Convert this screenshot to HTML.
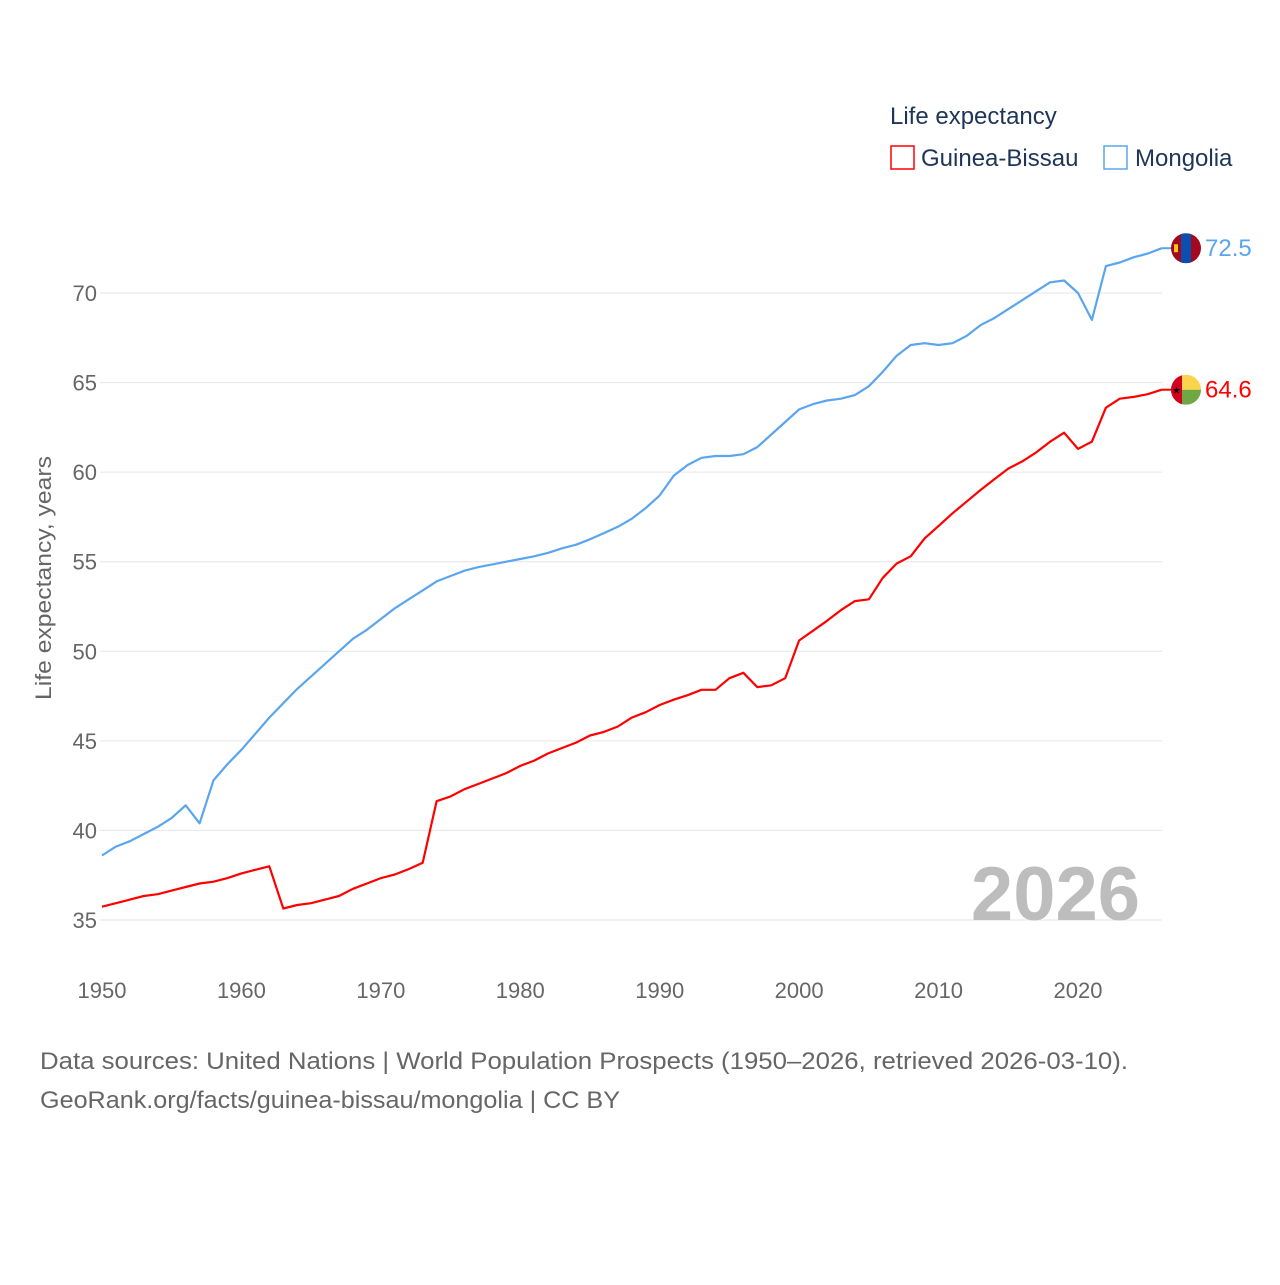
<!DOCTYPE html>
<html><head><meta charset="utf-8"><style>
body{margin:0;background:#fff;width:1280px;height:1280px;overflow:hidden;font-family:"Liberation Sans",sans-serif}
svg text{font-family:"Liberation Sans",sans-serif}
</style></head><body>
<svg id="chart" width="1280" height="1280" xmlns="http://www.w3.org/2000/svg">
<g id="grid"></g>
<g id="yt"></g>
<g id="xt"></g>
<text transform="translate(51,578) rotate(-90)" text-anchor="middle" font-size="22" fill="#666" textLength="244" lengthAdjust="spacingAndGlyphs">Life expectancy, years</text>
<text x="1140" y="920" text-anchor="end" font-size="76" font-weight="bold" fill="#bdbdbd">2026</text>
<g id="lines"></g>
<g>
<text x="890" y="124" font-size="24" fill="#1d3557">Life expectancy</text>
<g><rect x="891" y="146" width="23" height="23" fill="none" stroke="#ff0000" stroke-width="1.5"/><text x="921" y="166" font-size="24" fill="#1d3557">Guinea-Bissau</text></g>
<g><rect x="1104" y="146" width="23" height="23" fill="none" stroke="#5aa5ef" stroke-width="1.5"/><text x="1135" y="166" font-size="24" fill="#1d3557">Mongolia</text></g>
</g>
<text x="40" y="1069" font-size="24" fill="#666" textLength="1088" lengthAdjust="spacingAndGlyphs">Data sources: United Nations | World Population Prospects (1950–2026, retrieved 2026-03-10).</text>
<text x="40" y="1108" font-size="24" fill="#666" textLength="580" lengthAdjust="spacingAndGlyphs">GeoRank.org/facts/guinea-bissau/mongolia | CC BY</text>
</svg>
<script>
const years=[];for(let y=1950;y<=2026;y++)years.push(y);
const mongolia=[38.6,39.1,39.4,39.8,40.2,40.7,41.4,40.4,42.8,43.7,44.5,45.4,46.3,47.1,47.9,48.6,49.3,50.0,50.7,51.2,51.8,52.4,52.9,53.4,53.9,54.2,54.5,54.7,54.85,55.0,55.15,55.3,55.5,55.75,55.95,56.25,56.6,56.95,57.4,58.0,58.7,59.8,60.4,60.8,60.9,60.9,61.0,61.4,62.1,62.8,63.5,63.8,64.0,64.1,64.3,64.8,65.6,66.5,67.1,67.2,67.1,67.2,67.6,68.2,68.6,69.1,69.6,70.1,70.6,70.7,70.0,68.5,71.5,71.7,72.0,72.2,72.5];
const guinea=[35.74,35.94,36.14,36.34,36.44,36.64,36.84,37.04,37.14,37.34,37.6,37.8,38.0,35.64,35.84,35.94,36.14,36.34,36.74,37.04,37.34,37.54,37.84,38.2,41.63,41.9,42.3,42.6,42.9,43.2,43.6,43.9,44.3,44.6,44.9,45.3,45.5,45.8,46.3,46.6,47.0,47.3,47.55,47.85,47.85,48.5,48.8,48.0,48.1,48.5,50.6,51.15,51.7,52.3,52.8,52.9,54.1,54.9,55.3,56.3,57.0,57.7,58.35,59.0,59.6,60.2,60.6,61.1,61.7,62.2,61.3,61.7,63.6,64.1,64.2,64.35,64.6];
const yTicks=[35,40,45,50,55,60,65,70];
const xTicks=[1950,1960,1970,1980,1990,2000,2010,2020];
const NS="http://www.w3.org/2000/svg";
const X=y=>102+(y-1950)*(1078-102)/70;
const Y=v=>920-(v-35)*(920-293)/35;
function mk(t,a,p){const e=document.createElementNS(NS,t);for(const k in a)e.setAttribute(k,a[k]);p.appendChild(e);return e;}
const grid=document.getElementById('grid'),yt=document.getElementById('yt'),xt=document.getElementById('xt'),lines=document.getElementById('lines');
yTicks.forEach(v=>{
 const l=mk('line',{x1:100,x2:1162,y1:Y(v),y2:Y(v),stroke:'#e6e6e6','stroke-width':1},grid);
 
 
 const t=mk('text',{x:97,y:Y(v)+8,'text-anchor':'end','font-size':22,fill:'#666'},yt);t.textContent=v;
 
 
});
xTicks.forEach(v=>{
 const t=mk('text',{x:X(v),y:998,'text-anchor':'middle','font-size':22,fill:'#666'},xt);t.textContent=v;
 
 
});
function series(vals,color,name){
 const d=vals.map((v,i)=>(i?'L':'M')+X(years[i]).toFixed(1)+','+Y(v).toFixed(1)).join('');
 const p=mk('path',{d:d,fill:'none',stroke:color,'stroke-width':2.2,'stroke-linejoin':'round'},lines);
 
 
 const last=vals[vals.length-1],lx=X(years[years.length-1]),ly=Y(last);
 const c=mk('line',{x1:lx,x2:lx+10,y1:ly,y2:ly,stroke:color,'stroke-width':2},lines);
 
 
 const t=mk('text',{x:1205,y:ly+8,'font-size':24,fill:color},lines);t.textContent=last.toFixed(1);
 
 
 return ly;
}
const my=series(mongolia,'#5aa5ef','mongolia');
const gy=series(guinea,'#ff0000','guinea-bissau');
const cx=1186;
const f1=mk('g',{},lines);


f1.innerHTML=`<clipPath id="cm"><circle cx="${cx}" cy="${my}" r="15"/></clipPath><g clip-path="url(#cm)"><rect x="${cx-15}" y="${my-15}" width="30" height="30" fill="#a3081e"/><rect x="${cx-5}" y="${my-15}" width="10" height="30" fill="#0a4fb0"/><rect x="${cx-12}" y="${my-4}" width="4" height="8" fill="#f5c518"/></g>`;
const f2=mk('g',{},lines);


f2.innerHTML=`<clipPath id="cg"><circle cx="${cx}" cy="${gy}" r="15"/></clipPath><g clip-path="url(#cg)"><rect x="${cx-15}" y="${gy-15}" width="30" height="15" fill="#fcd34d"/><rect x="${cx-15}" y="${gy}" width="30" height="15" fill="#6fa843"/><rect x="${cx-15}" y="${gy-15}" width="11" height="30" fill="#d4001f"/><text x="${cx-9.5}" y="${gy+4}" font-size="10" text-anchor="middle" fill="#000">★</text></g>`;
</script>
</body></html>
